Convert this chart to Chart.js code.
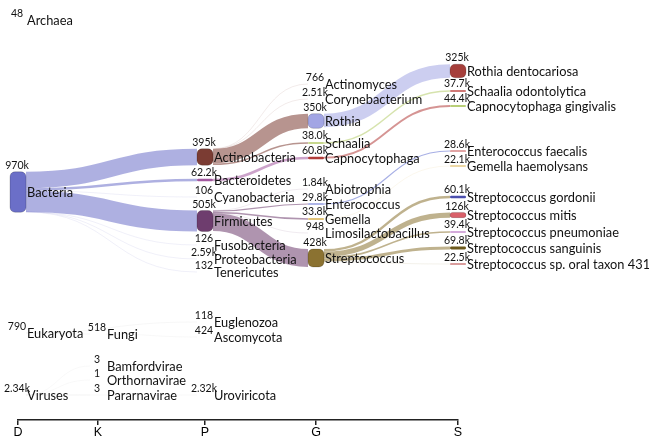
<!DOCTYPE html>
<html>
<head>
<meta charset="utf-8">
<script src="https://cdn.jsdelivr.net/npm/chart.js@4.4.1/dist/chart.umd.min.js"></script>
<style>
  html, body { margin: 0; padding: 0; background: #fff; }
</style>
</head>
<body>
<canvas id="sankeyChart" width="649" height="438"></canvas>
<script>
// taxonomic ranks along the bottom axis
const levels = ['D', 'K', 'P', 'G', 'S'];

// nodes: name, rank (index into levels), number of reads
const nodeNames = [
    'Archaea', 'Bacteria', 'Eukaryota', 'Viruses',
    'Fungi', 'Bamfordvirae', 'Orthornavirae', 'Pararnavirae',
    'Actinobacteria', 'Bacteroidetes', 'Cyanobacteria', 'Firmicutes', 'Fusobacteria',
    'Proteobacteria', 'Tenericutes', 'Euglenozoa', 'Ascomycota', 'Uroviricota',
    'Actinomyces', 'Corynebacterium', 'Rothia', 'Schaalia', 'Capnocytophaga',
    'Abiotrophia', 'Enterococcus', 'Gemella', 'Limosilactobacillus', 'Streptococcus',
    'Rothia dentocariosa', 'Schaalia odontolytica', 'Capnocytophaga gingivalis',
    'Enterococcus faecalis', 'Gemella haemolysans', 'Streptococcus gordonii',
    'Streptococcus mitis', 'Streptococcus pneumoniae', 'Streptococcus sanguinis',
    'Streptococcus sp. oral taxon 431'
];
const nodeLevels = [
    0, 0, 0, 0,
    1, 1, 1, 1,
    2, 2, 2, 2, 2, 2, 2, 2, 2, 2,
    3, 3, 3, 3, 3, 3, 3, 3, 3, 3,
    4, 4, 4, 4, 4, 4, 4, 4, 4, 4
];
const nodeValues = [
    48, 970000, 790, 2340,
    518, 3, 1, 3,
    395000, 62200, 106, 505000, 126, 2590, 132, 118, 424, 2320,
    766, 2510, 350000, 38000, 60800, 1840, 29800, 33800, 948, 428000,
    325000, 37700, 44400, 28600, 22100, 60100, 126000, 39400, 69800, 22500
];

// links: source -> target, number of reads
const linkSources = [
    'Bacteria', 'Bacteria', 'Bacteria', 'Bacteria', 'Bacteria', 'Bacteria', 'Bacteria',
    'Eukaryota', 'Eukaryota', 'Fungi',
    'Viruses', 'Viruses', 'Viruses', 'Viruses',
    'Actinobacteria', 'Actinobacteria', 'Actinobacteria', 'Actinobacteria',
    'Bacteroidetes',
    'Firmicutes', 'Firmicutes', 'Firmicutes', 'Firmicutes', 'Firmicutes',
    'Rothia', 'Schaalia', 'Capnocytophaga', 'Enterococcus', 'Gemella',
    'Streptococcus', 'Streptococcus', 'Streptococcus', 'Streptococcus', 'Streptococcus'
];
const linkTargets = [
    'Actinobacteria', 'Bacteroidetes', 'Cyanobacteria', 'Firmicutes', 'Fusobacteria', 'Proteobacteria', 'Tenericutes',
    'Fungi', 'Euglenozoa', 'Ascomycota',
    'Bamfordvirae', 'Orthornavirae', 'Pararnavirae', 'Uroviricota',
    'Actinomyces', 'Corynebacterium', 'Rothia', 'Schaalia',
    'Capnocytophaga',
    'Abiotrophia', 'Enterococcus', 'Gemella', 'Limosilactobacillus', 'Streptococcus',
    'Rothia dentocariosa', 'Schaalia odontolytica', 'Capnocytophaga gingivalis',
    'Enterococcus faecalis', 'Gemella haemolysans',
    'Streptococcus gordonii', 'Streptococcus mitis', 'Streptococcus pneumoniae',
    'Streptococcus sanguinis', 'Streptococcus sp. oral taxon 431'
];
const linkValues = [
    395000, 62200, 106, 505000, 126, 2590, 132,
    518, 118, 424,
    3, 1, 3, 2320,
    766, 2510, 350000, 38000,
    60800,
    1840, 29800, 33800, 948, 428000,
    325000, 37700, 44400, 28600, 22100,
    60100, 126000, 39400, 69800, 22500
];

// layout
const levelX = [0, 80, 187, 298, 440];
const nodeY = [
    20, 192, 333, 395,
    334, 366, 380, 395,
    157, 180, 197, 221, 245, 259, 272, 322, 337, 395,
    84, 99, 121, 143, 158, 189, 204, 219, 233, 258,
    71, 91, 106, 151, 166, 197, 215, 232, 248, 264
];
const nodeColors = [
    '#9fa3d6', '#6b6fc8', '#b0b0b0', '#c0c0c0',
    '#b7b7b7', '#cccccc', '#cccccc', '#cccccc',
    '#7b3c33', '#a2589f', '#99aaaa', '#6e3d6e', '#aaaaaa', '#a8a8d8', '#bbbbbb', '#cccccc', '#cccccc', '#dddddd',
    '#d0d0d0', '#c8d89a', '#a2a5e4', '#b5cc6a', '#b23d3a', '#8f96e0', '#5f6dd0', '#d8b04c', '#c0c0c0', '#8b7231',
    '#a63f3b', '#c14c4a', '#b9cf78', '#c44a4a', '#d9b04a', '#4b4fae', '#d95f69', '#c68fd0', '#6c591c', '#b33a3a'
];
const readsPerUnit = 24000;
const nodeHalfWidth = 8;

function formatReads(v) {
    if (v >= 1000) return (v / 1000).toPrecision(3) + 'k';
    return String(v);
}

function rgba(hex, a) {
    var n = parseInt(hex.slice(1), 16);
    return 'rgba(' + (n >> 16) + ',' + ((n >> 8) & 255) + ',' + (n & 255) + ',' + a + ')';
}

// stack links on their nodes, ordered like d3-sankey does
var links = linkValues.map((v, k) => ({
    s: nodeNames.indexOf(linkSources[k]),
    t: nodeNames.indexOf(linkTargets[k]),
    v: v
}));
nodeNames.forEach((name, i) => {
    var h = nodeValues[i] / readsPerUnit;
    var off = nodeY[i] - h / 2;
    links.filter(l => l.s === i)
        .sort((a, b) => nodeY[a.t] - nodeY[b.t])
        .forEach(l => { var w = l.v / readsPerUnit; l.sy = off + w / 2; off += w; });
    off = nodeY[i] - h / 2;
    links.filter(l => l.t === i)
        .sort((a, b) => nodeY[a.s] - nodeY[b.s])
        .forEach(l => { var w = l.v / readsPerUnit; l.ty = off + w / 2; off += w; });
});

const sankeyPlugin = {
    id: 'sankey',
    afterDatasetsDraw(chart) {
        const ctx = chart.ctx;
        const x = chart.scales.x;
        const y = chart.scales.y;
        const unitPx = Math.abs(y.getPixelForValue(1) - y.getPixelForValue(0));
        ctx.save();

        // links
        links.forEach(l => {
            var x0 = x.getPixelForValue(levelX[nodeLevels[l.s]] + nodeHalfWidth);
            var x1 = x.getPixelForValue(levelX[nodeLevels[l.t]] - nodeHalfWidth);
            var y0 = y.getPixelForValue(l.sy);
            var y1 = y.getPixelForValue(l.ty);
            var w = l.v / readsPerUnit * unitPx;
            var xm = (x0 + x1) / 2;
            ctx.beginPath();
            ctx.moveTo(x0, y0);
            ctx.bezierCurveTo(xm, y0, xm, y1, x1, y1);
            ctx.strokeStyle = rgba(nodeColors[l.s], w < 1 ? 0.1 : 0.55);
            ctx.lineWidth = Math.max(w, 1);
            ctx.stroke();
        });

        // nodes
        nodeNames.forEach((name, i) => {
            var h = nodeValues[i] / readsPerUnit;
            var left = x.getPixelForValue(levelX[nodeLevels[i]] - nodeHalfWidth);
            var right = x.getPixelForValue(levelX[nodeLevels[i]] + nodeHalfWidth);
            var top = y.getPixelForValue(nodeY[i] - h / 2);
            var bottom = y.getPixelForValue(nodeY[i] + h / 2);
            if (bottom - top < 0.5) return;
            ctx.beginPath();
            ctx.roundRect(left, top, right - left, bottom - top, Math.min(5, (bottom - top) / 2));
            ctx.fillStyle = nodeColors[i];
            ctx.fill();
            if (bottom - top > 4) {
                ctx.strokeStyle = 'rgba(0,0,0,0.18)';
                ctx.lineWidth = 1;
                ctx.stroke();
            }
        });

        // labels
        ctx.fillStyle = '#111';
        nodeNames.forEach((name, i) => {
            var h = nodeValues[i] / readsPerUnit;
            var cx = x.getPixelForValue(levelX[nodeLevels[i]]);
            var top = y.getPixelForValue(nodeY[i] - h / 2);
            var cy = y.getPixelForValue(nodeY[i]);
            ctx.font = '10.5px Lato';
            ctx.textAlign = 'center';
            ctx.textBaseline = 'bottom';
            ctx.fillText(formatReads(nodeValues[i]), cx - 1, top - 1);
            ctx.font = '12.8px Lato';
            ctx.textAlign = 'left';
            ctx.textBaseline = 'middle';
            ctx.fillText(name, cx + 9, cy + 1);
        });
        ctx.restore();
    }
};

var sankeyContext = document.getElementById('sankeyChart').getContext('2d');

var sankeyChart = new Chart(sankeyContext, {
    type: 'scatter',
    data: {
        datasets: [{
            data: nodeNames.map((n, i) => ({ x: levelX[nodeLevels[i]], y: nodeY[i] })),
            pointRadius: 0
        }]
    },
    options: {
        responsive: false,
        animation: false,
        layout: { padding: { left: 18, right: 191, top: 0, bottom: 0 } },
        plugins: { legend: { display: false }, tooltip: { enabled: false } },
        scales: {
            x: {
                type: 'linear',
                min: levelX[0],
                max: levelX[levelX.length - 1],
                afterBuildTicks: (scale) => { scale.ticks = levelX.map(v => ({ value: v })); },
                afterFit: (scale) => { scale.height = 18; },
                ticks: {
                    callback: (value, index) => levels[index],
                    autoSkip: false,
                    maxRotation: 0,
                    padding: 0,
                    color: '#000',
                    font: { family: 'Liberation Sans', size: 12.5 }
                },
                grid: { drawOnChartArea: false, drawTicks: true, tickLength: 5, color: '#222', lineWidth: 1.5 },
                border: { display: true, color: '#222', width: 1.5 }
            },
            y: { display: false, min: 0, max: 420, reverse: true }
        }
    },
    plugins: [sankeyPlugin]
});
</script>
</body>
</html>
